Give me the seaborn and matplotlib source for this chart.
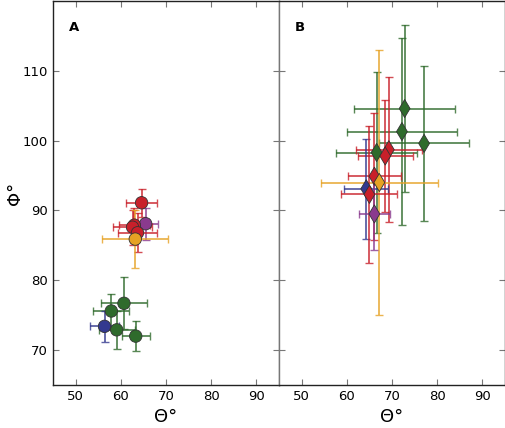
import matplotlib
matplotlib.use("Agg")
import matplotlib.pyplot as plt
import seaborn as sns
import pandas as pd

# Panel A data
a_group = ["red", "purple", "red", "red", "red", "orange", "green", "green", "blue", "green", "green"]
a_theta = [64.6, 65.5, 63.0, 62.6, 63.7, 63.2, 60.7, 57.9, 56.4, 59.1, 63.3]
a_phi = [91.1, 88.1, 87.9, 87.6, 86.8, 85.9, 76.7, 75.6, 73.4, 72.9, 72.0]
a_theta_err = [3.4, 2.8, 3.5, 4.4, 4.4, 7.3, 5.0, 4.0, 3.3, 4.0, 3.1]
a_phi_err = [2.0, 2.3, 2.5, 2.5, 2.8, 4.2, 3.7, 2.5, 2.2, 2.7, 2.2]

# Panel B data
b_group = ["green", "green", "green", "green", "red", "red", "red", "orange", "blue", "red", "purple"]
b_theta = [72.8, 72.2, 77.1, 66.6, 69.3, 68.5, 66.1, 67.2, 64.3, 65.0, 66.1]
b_phi = [104.6, 101.3, 99.6, 98.3, 98.7, 97.8, 94.9, 94.0, 93.1, 92.3, 89.5]
b_theta_err = [11.2, 12.1, 9.9, 9.0, 7.3, 6.1, 5.9, 13.0, 4.9, 6.2, 3.5]
b_phi_err = [11.9, 13.4, 11.1, 11.5, 10.4, 8.0, 9.1, 19.0, 7.2, 9.8, 5.2]

palette = {
    "red": "#c8202a",
    "green": "#2f6b2c",
    "blue": "#33398f",
    "purple": "#8a3a8e",
    "orange": "#e6a224",
}

x_ticks = [50, 60, 70, 80, 90]
y_ticks = [70, 80, 90, 100, 110]

sns.set_style("ticks")
plt.rcParams['font.family'] = ['DejaVu Sans']

fig = plt.figure(figsize=(5.06, 4.28), dpi=100)
axA = fig.add_axes([53 / 506, 1 - 385 / 428, 226 / 506, 384 / 428])
axB = fig.add_axes([279 / 506, 1 - 385 / 428, 226 / 506, 384 / 428], sharey=axA)

def draw(ax, groups, xs, ys, xe, ye, marker, msize, label):
    df = pd.DataFrame({"theta": xs, "phi": ys, "xe": xe, "ye": ye, "g": groups})
    for _, r in df.iterrows():
        ax.errorbar(r.theta, r.phi, xerr=r.xe, yerr=r.ye, fmt="none",
                    ecolor=palette[r.g], elinewidth=1.3, capsize=3, capthick=1,
                    alpha=0.8, zorder=2)
    sns.scatterplot(data=df, x="theta", y="phi", hue="g", palette=palette,
                    marker=marker, s=msize, edgecolor="#333333", linewidth=0.6,
                    legend=False, ax=ax, zorder=3)
    ax.set_xlim(45, 95)
    ax.set_ylim(65, 120)
    ax.set_xticks(x_ticks)
    ax.set_yticks(y_ticks)
    ax.tick_params(direction="in", top=True, right=True, length=4, width=0.8,
                   color="#777777", labelsize=9.5, labelcolor="black")
    ax.set_xlabel("Θ°", fontsize=13, color="black")
    ax.text(0.07, 0.93, label, transform=ax.transAxes, fontsize=9.5,
            fontweight="bold", ha="left", va="center", color="black")
    for s in ax.spines.values():
        s.set_color("#222222")
        s.set_linewidth(1.0)

draw(axA, a_group, a_theta, a_phi, a_theta_err, a_phi_err, "o", 80, "A")
draw(axB, b_group, b_theta, b_phi, b_theta_err, b_phi_err, "d", 85, "B")

axA.set_ylabel("Φ°", fontsize=13, color="black", labelpad=-1)
axB.set_ylabel("")
axB.tick_params(labelleft=False)
axA.spines["right"].set_color("#777777")
axB.spines["left"].set_color("#777777")

fig.savefig("out.png", dpi=100)
